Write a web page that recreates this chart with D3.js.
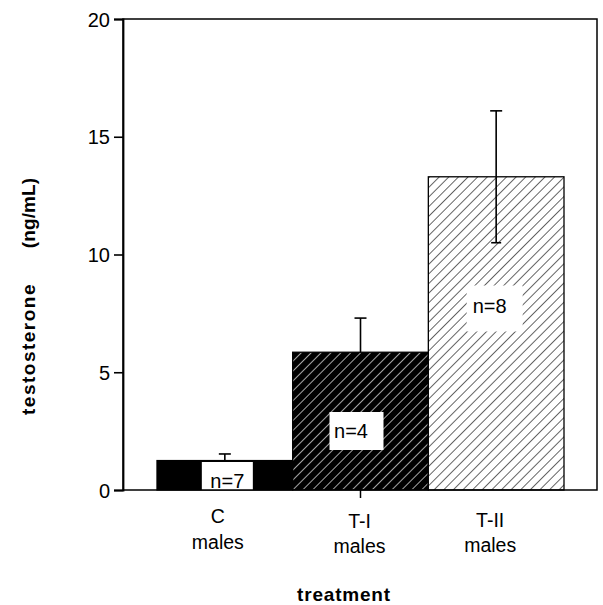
<!DOCTYPE html>
<html>
<head>
<meta charset="utf-8">
<script src="https://cdn.jsdelivr.net/npm/d3@7"></script>
<style>
  html, body { margin: 0; padding: 0; background: #fff; }
  svg { display: block; }
  text { font-family: "Liberation Sans", Arial, Helvetica, sans-serif; fill: #000; }
</style>
</head>
<body>
<svg id="chart" width="603" height="605"></svg>
<script>
// Serum testosterone by treatment group (mean ± SE)
const groups = ["C", "T-I", "T-II"];
const groupSub = ["males", "males", "males"];
const means = [1.25, 5.85, 13.3];
const errors = [0.28, 1.45, 2.8];
const sampleSizes = [7, 4, 8];
const yTicks = [0, 5, 10, 15, 20];

const svg = d3.select("#chart");
const margin = { left: 123, top: 19, right: 6, bottom: 115 };
const W = 603, H = 605;
const x0 = margin.left, x1 = W - margin.right;
const y0 = H - margin.bottom, y1 = margin.top;

// Bars sit flush against each other, leaving a gap at both ends of the axis
const x = d3.scaleBand().domain(groups).range([157, 564]).paddingInner(0).paddingOuter(0);
const y = d3.scaleLinear().domain([0, 20]).range([y0, y1]);
const mid = g => x(g) + x.bandwidth() / 2;

// Hatch patterns
const defs = svg.append("defs");
const hatchDark = defs.append("pattern")
  .attr("id", "hatch-dark").attr("patternUnits", "userSpaceOnUse")
  .attr("width", 7).attr("height", 7).attr("patternTransform", "rotate(45)");
hatchDark.append("rect").attr("width", 7).attr("height", 7).attr("fill", "#000");
hatchDark.append("line").attr("x1", 0).attr("y1", 0).attr("x2", 0).attr("y2", 7)
  .attr("stroke", "#fff").attr("stroke-width", 1.3);

const hatchLight = defs.append("pattern")
  .attr("id", "hatch-light").attr("patternUnits", "userSpaceOnUse")
  .attr("width", 6.8).attr("height", 6.8).attr("patternTransform", "rotate(45)");
hatchLight.append("rect").attr("width", 6.8).attr("height", 6.8).attr("fill", "#fff");
hatchLight.append("line").attr("x1", 0).attr("y1", 0).attr("x2", 0).attr("y2", 6.8)
  .attr("stroke", "#000").attr("stroke-width", 1.2);

const fills = ["#000", "url(#hatch-dark)", "url(#hatch-light)"];

// Error bars (drawn first so the bars cover the lower halves)
const eb = svg.append("g");
groups.forEach((g, i) => {
  const cx = mid(g);
  eb.append("line").attr("x1", cx).attr("x2", cx)
    .attr("y1", y(means[i] - errors[i])).attr("y2", y(means[i] + errors[i]))
    .attr("stroke", "#000").attr("stroke-width", 1.6);
  eb.append("line").attr("x1", cx - 6).attr("x2", cx + 6)
    .attr("y1", y(means[i] + errors[i])).attr("y2", y(means[i] + errors[i]))
    .attr("stroke", "#000").attr("stroke-width", 1.6);
});

// Bars
svg.append("g").selectAll("rect")
  .data(groups)
  .join("rect")
  .attr("x", d => x(d))
  .attr("y", (d, i) => y(means[i]))
  .attr("width", x.bandwidth())
  .attr("height", (d, i) => y0 - y(means[i]))
  .attr("fill", (d, i) => fills[i])
  .attr("stroke", "#000")
  .attr("stroke-width", 1.3);

// The lower error segment of T-II shows through the hatching
{
  const i = 2, cx = mid(groups[i]);
  svg.append("line").attr("x1", cx).attr("x2", cx)
    .attr("y1", y(means[i] - errors[i])).attr("y2", y(means[i]))
    .attr("stroke", "#000").attr("stroke-width", 1.6);
  svg.append("line").attr("x1", cx - 5).attr("x2", cx + 5)
    .attr("y1", y(means[i] - errors[i])).attr("y2", y(means[i] - errors[i]))
    .attr("stroke", "#000").attr("stroke-width", 1.6);
}

// Sample-size labels in white boxes
const nBoxes = [
  { dx: 2.5, w: 51, h: 28, cy: 476, dtx: 0, ty: 488 },
  { dx: -4, w: 54, h: 38, cy: 431, dtx: -5.5, ty: 438 },
  { dx: -1.5, w: 56, h: 46, cy: 308.5, dtx: -5, ty: 313 }
];
groups.forEach((g, i) => {
  const b = nBoxes[i];
  const cx = mid(g) + b.dx;
  svg.append("rect")
    .attr("x", cx - b.w / 2).attr("y", b.cy - b.h / 2)
    .attr("width", b.w).attr("height", b.h)
    .attr("fill", "#fff");
  svg.append("text")
    .attr("x", cx + b.dtx).attr("y", b.ty)
    .attr("text-anchor", "middle")
    .attr("font-size", 20)
    .text(`n=${sampleSizes[i]}`);
});

// Frame
svg.append("rect")
  .attr("x", x0).attr("y", y1)
  .attr("width", x1 - x0).attr("height", y0 - y1)
  .attr("fill", "none").attr("stroke", "#000").attr("stroke-width", 1.5);

// Y axis
const yAxis = svg.append("g")
  .attr("transform", `translate(${x0},0)`)
  .call(d3.axisLeft(y).tickValues(yTicks).tickSize(9).tickPadding(4));
yAxis.select(".domain").attr("stroke-width", 1.8);
yAxis.selectAll(".tick line").attr("stroke-width", 1.6);
yAxis.selectAll(".tick text").attr("font-size", 20).attr("dy", "0.36em")
  .attr("font-family", "'Liberation Sans', Arial, sans-serif");

// Single category tick under the middle bar
const xAxis = svg.append("g")
  .attr("transform", `translate(0,${y0})`)
  .call(d3.axisBottom(x).tickValues(["T-I"]).tickSize(8).tickFormat(""));
xAxis.select(".domain").remove();
xAxis.selectAll(".tick line").attr("stroke-width", 1.5);

// Category labels
const labelPos = [
  { dx: -7, y1: 523, y2: 549 },
  { dx: -1, y1: 528, y2: 553 },
  { dx: -6, y1: 527, y2: 552 }
];
groups.forEach((g, i) => {
  const p = labelPos[i];
  const cx = mid(g) + p.dx;
  const t = svg.append("text").attr("text-anchor", "middle").attr("font-size", 19.5);
  t.append("tspan").attr("x", cx).attr("y", p.y1).text(g);
  t.append("tspan").attr("x", cx).attr("y", p.y2).text(groupSub[i]);
});

// Axis titles
svg.append("text")
  .attr("x", 344).attr("y", 601)
  .attr("text-anchor", "middle")
  .attr("font-size", 19).attr("font-weight", "bold")
  .attr("letter-spacing", 0.8)
  .text("treatment");

// Y title: quantity and unit, set apart by a wide gap
const yTitle = [
  { text: "testosterone", cy: 349, ls: 1.5 },
  { text: "(ng/mL)", cy: 213, ls: 0.1 }
];
yTitle.forEach(d => {
  svg.append("text")
    .attr("transform", `translate(35,${d.cy}) rotate(-90)`)
    .attr("text-anchor", "middle")
    .attr("font-size", 19).attr("font-weight", "bold")
    .attr("letter-spacing", d.ls)
    .text(d.text);
});
</script>
</body>
</html>
